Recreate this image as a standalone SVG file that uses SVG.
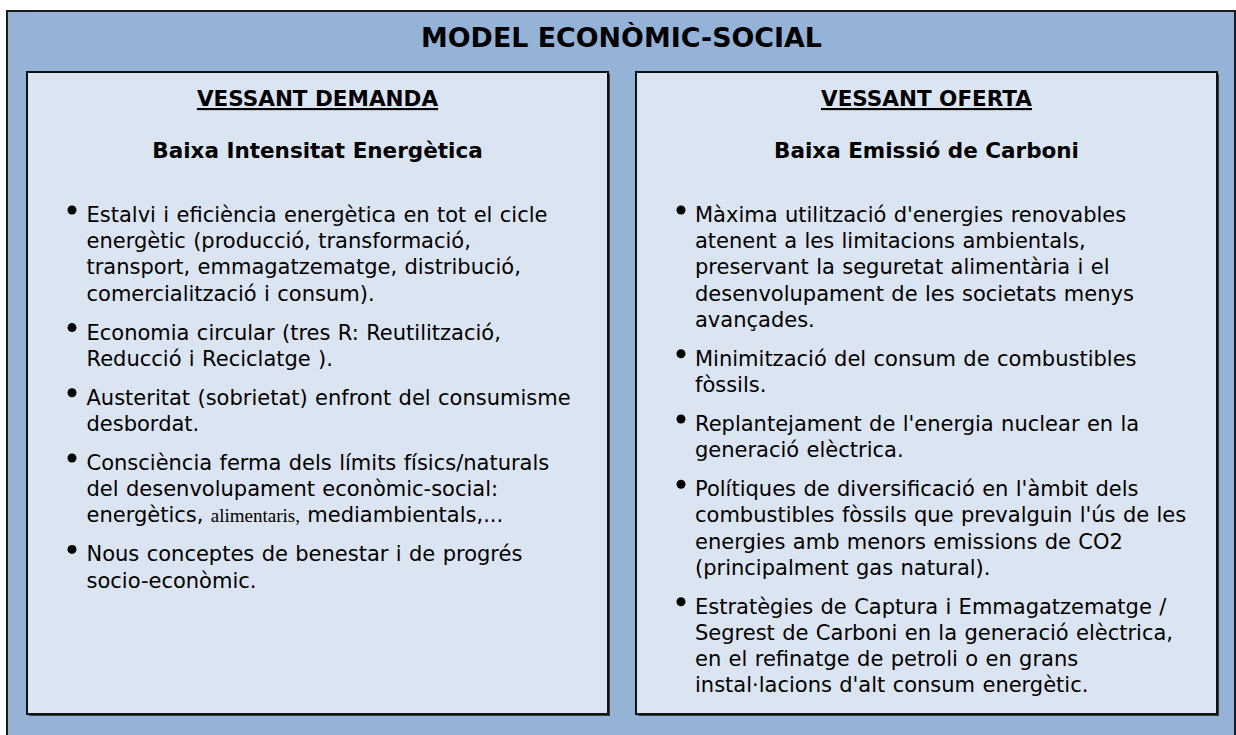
<svg xmlns="http://www.w3.org/2000/svg" width="1236" height="735" viewBox="0 0 1236 735">
<style>
.outer{fill:#95b3d7;stroke:#1a1a1a;stroke-width:2}
.panel{fill:#dbe5f1;stroke:#111;stroke-width:2}
.shadow{fill:#3a3a3a}
.title{font-family:"DejaVu Sans",Verdana,sans-serif;font-weight:bold;font-size:26px;fill:#000}
.head{font-family:"DejaVu Sans",Verdana,sans-serif;font-weight:bold;font-size:21.5px;fill:#000}
.body{font-family:"DejaVu Sans",Verdana,sans-serif;font-size:21px;fill:#000;word-spacing:0.7px}
.serif{font-family:"Liberation Serif","Times New Roman",serif;font-size:19px}
.dot{fill:#000}
</style>
<g id="frame">
<rect class="outer" x="7" y="11" width="1228" height="740"/>
<text class="title" x="621.5" y="47" text-anchor="middle" textLength="401" lengthAdjust="spacingAndGlyphs">MODEL ECONÒMIC-SOCIAL</text>
</g>
<g id="demanda">
<rect class="shadow" x="29" y="74" width="581" height="642"/>
<rect class="panel" x="27" y="72" width="581" height="642"/>
<text class="head" x="317.5" y="106" text-anchor="middle" text-decoration="underline">VESSANT DEMANDA</text>
<text class="head" x="317.5" y="158" text-anchor="middle">Baixa Intensitat Energètica</text>
<g class="dot">
<circle cx="72" cy="210" r="4.5"/>
<circle cx="72" cy="327.6" r="4.5"/>
<circle cx="72" cy="392.8" r="4.5"/>
<circle cx="72" cy="458" r="4.5"/>
<circle cx="72" cy="549.4" r="4.5"/>
</g>
<text class="body">
<tspan x="86.5" y="222">Estalvi i eficiència energètica en tot el cicle</tspan>
<tspan x="86.5" y="248.2">energètic (producció, transformació,</tspan>
<tspan x="86.5" y="274.4">transport, emmagatzematge, distribució,</tspan>
<tspan x="86.5" y="300.6">comercialització i consum).</tspan>
<tspan x="86.5" y="339.6">Economia circular (tres R: Reutilització,</tspan>
<tspan x="86.5" y="365.8">Reducció i Reciclatge ).</tspan>
<tspan x="86.5" y="404.8">Austeritat (sobrietat) enfront del consumisme</tspan>
<tspan x="86.5" y="431">desbordat.</tspan>
<tspan x="86.5" y="470">Consciència ferma dels límits físics/naturals</tspan>
<tspan x="86.5" y="496.2">del desenvolupament econòmic-social:</tspan>
<tspan x="86.5" y="522.4">energètics, <tspan class="serif">alimentaris,</tspan> mediambientals,...</tspan>
<tspan x="86.5" y="561.4">Nous conceptes de benestar i de progrés</tspan>
<tspan x="86.5" y="587.6">socio-econòmic.</tspan>
</text>
</g>
<g id="oferta">
<rect class="shadow" x="638" y="74" width="581" height="642"/>
<rect class="panel" x="636" y="72" width="581" height="642"/>
<text class="head" x="926.5" y="106" text-anchor="middle" text-decoration="underline">VESSANT OFERTA</text>
<text class="head" x="926.5" y="158" text-anchor="middle">Baixa Emissió de Carboni</text>
<g class="dot">
<circle cx="681" cy="210" r="4.5"/>
<circle cx="681" cy="353.8" r="4.5"/>
<circle cx="681" cy="419" r="4.5"/>
<circle cx="681" cy="484.2" r="4.5"/>
<circle cx="681" cy="601.8" r="4.5"/>
</g>
<text class="body">
<tspan x="695" y="222">Màxima utilització d'energies renovables</tspan>
<tspan x="695" y="248.2">atenent a les limitacions ambientals,</tspan>
<tspan x="695" y="274.4">preservant la seguretat alimentària i el</tspan>
<tspan x="695" y="300.6">desenvolupament de les societats menys</tspan>
<tspan x="695" y="326.8">avançades.</tspan>
<tspan x="695" y="365.8">Minimització del consum de combustibles</tspan>
<tspan x="695" y="392">fòssils.</tspan>
<tspan x="695" y="431">Replantejament de l'energia nuclear en la</tspan>
<tspan x="695" y="457.2">generació elèctrica.</tspan>
<tspan x="695" y="496.2">Polítiques de diversificació en l'àmbit dels</tspan>
<tspan x="695" y="522.4">combustibles fòssils que prevalguin l'ús de les</tspan>
<tspan x="695" y="548.6">energies amb menors emissions de CO2</tspan>
<tspan x="695" y="574.8">(principalment gas natural).</tspan>
<tspan x="695" y="613.8">Estratègies de Captura i Emmagatzematge /</tspan>
<tspan x="695" y="640">Segrest de Carboni en la generació elèctrica,</tspan>
<tspan x="695" y="666.2">en el refinatge de petroli o en grans</tspan>
<tspan x="695" y="692.4">instal·lacions d'alt consum energètic.</tspan>
</text>
</g>
</svg>
